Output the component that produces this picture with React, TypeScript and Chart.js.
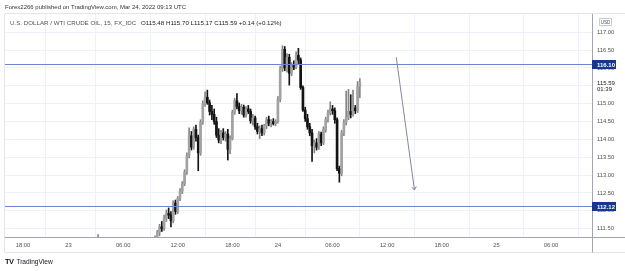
import React, { useEffect, useRef } from "react";
import { Chart, registerables } from "chart.js";

Chart.register(...registerables);

// ---- data (15-minute bars, index 0 = Mar 22 18:00 UTC) ----
const firstBar = 30;
const opens = [
  110.70, 110.78, 110.90, 110.98, 111.05, 110.90, 110.76, 110.66, 110.72, 110.70,
  110.58, 110.62, 110.68, 110.64, 110.55, 110.60, 110.66, 110.75, 110.70, 110.80,
  110.92, 111.05, 110.98, 111.15, 111.02, 111.10, 111.00, 111.08, 111.15, 111.25,
  111.40, 111.55, 111.50, 111.80, 111.92, 111.88, 111.72, 112.22, 111.98, 112.35,
  112.55, 112.76, 113.08, 113.55, 114.10, 113.78, 114.28, 114.05, 113.62, 114.48,
  115.00, 115.18, 115.02, 114.78, 114.70, 114.50, 114.12, 113.98, 114.18, 114.05,
  114.15, 113.72, 114.02, 114.75, 115.08, 114.92, 114.80, 114.90, 114.68, 114.85,
  114.78, 114.52, 114.60, 114.35, 114.22, 114.30, 114.18, 114.38, 114.55, 114.45,
  114.50, 114.44, 114.50, 115.12, 115.98, 116.52, 116.00, 116.30, 115.85, 116.08,
  116.02, 116.35, 116.22, 115.45, 114.82, 114.58, 114.35, 114.18, 113.82, 113.90,
  113.78, 114.15, 113.90, 114.28, 114.55, 114.75, 114.85, 114.80, 114.55, 113.18,
  113.05, 114.18, 114.48, 114.62, 114.78, 114.70, 114.88, 114.80, 115.48,
];
const highs = [
  110.85, 110.95, 111.05, 111.33, 111.10, 110.98, 110.86, 110.80, 110.85, 110.78,
  110.70, 110.75, 110.80, 110.72, 110.68, 110.74, 110.82, 110.90, 110.85, 110.98,
  111.12, 111.20, 111.22, 111.25, 111.18, 111.24, 111.12, 111.22, 111.30, 111.45,
  111.62, 111.70, 111.88, 112.02, 112.08, 111.98, 112.28, 112.30, 112.40, 112.62,
  112.82, 113.15, 113.62, 114.32, 114.22, 114.35, 114.40, 114.12, 114.55, 115.08,
  115.33, 115.38, 115.10, 114.95, 114.85, 114.62, 114.30, 114.25, 114.30, 114.22,
  114.28, 114.10, 114.82, 115.15, 115.28, 115.02, 114.98, 114.96, 114.92, 114.95,
  114.85, 114.70, 114.65, 114.45, 114.38, 114.40, 114.42, 114.62, 114.65, 114.55,
  114.58, 114.55, 115.20, 116.05, 116.62, 116.60, 116.40, 116.38, 116.15, 116.20,
  116.45, 116.55, 116.28, 115.50, 114.90, 114.70, 114.45, 114.28, 113.98, 114.02,
  114.22, 114.20, 114.35, 114.62, 114.82, 115.05, 114.95, 114.88, 114.60, 113.25,
  114.25, 114.55, 115.35, 115.40, 115.25, 115.38, 114.95, 115.62, 115.70,
];
const lows = [
  110.60, 110.70, 110.82, 110.90, 110.85, 110.70, 110.60, 110.55, 110.62, 110.50,
  110.45, 110.52, 110.58, 110.48, 110.42, 110.50, 110.58, 110.66, 110.60, 110.72,
  110.85, 110.95, 110.90, 110.95, 110.92, 111.00, 110.92, 111.00, 111.05, 111.18,
  111.30, 111.42, 111.45, 111.70, 111.78, 111.55, 111.66, 111.90, 111.92, 112.28,
  112.48, 112.70, 113.02, 113.48, 113.70, 113.72, 113.95, 113.12, 113.55, 114.42,
  114.92, 114.98, 114.68, 114.55, 114.42, 114.05, 113.90, 113.88, 113.98, 113.95,
  113.42, 113.60, 113.98, 114.70, 114.85, 114.72, 114.70, 114.62, 114.62, 114.72,
  114.45, 114.40, 114.28, 114.15, 114.02, 114.10, 114.12, 114.30, 114.38, 114.35,
  114.40, 114.38, 114.45, 115.05, 115.90, 115.92, 115.88, 115.52, 115.78, 115.95,
  115.98, 116.12, 115.40, 114.78, 114.50, 114.28, 114.10, 113.38, 113.62, 113.70,
  113.72, 113.82, 113.85, 114.20, 114.48, 114.68, 114.70, 114.45, 113.12, 112.80,
  112.98, 114.10, 114.40, 114.55, 114.60, 114.65, 114.72, 114.75, 115.17,
];
const closes = [
  110.78, 110.90, 110.98, 111.05, 110.90, 110.76, 110.66, 110.72, 110.70, 110.58,
  110.62, 110.68, 110.64, 110.55, 110.60, 110.66, 110.75, 110.70, 110.80, 110.92,
  111.05, 110.98, 111.15, 111.02, 111.10, 111.18, 111.08, 111.15, 111.25, 111.40,
  111.55, 111.50, 111.80, 111.92, 111.88, 111.72, 112.22, 111.98, 112.35, 112.55,
  112.76, 113.08, 113.55, 114.10, 113.78, 114.28, 114.05, 113.62, 114.48, 115.00,
  115.18, 115.02, 114.78, 114.70, 114.50, 114.12, 113.98, 114.18, 114.05, 114.15,
  113.72, 114.02, 114.75, 115.08, 114.92, 114.80, 114.90, 114.68, 114.85, 114.78,
  114.52, 114.60, 114.35, 114.22, 114.30, 114.18, 114.38, 114.55, 114.45, 114.50,
  114.44, 114.50, 115.12, 115.98, 116.52, 116.00, 116.30, 115.85, 116.08, 116.02,
  116.35, 116.22, 115.45, 114.82, 114.58, 114.35, 114.18, 113.82, 113.90, 113.78,
  114.15, 113.90, 114.28, 114.55, 114.75, 114.85, 114.80, 114.55, 113.18, 113.05,
  114.18, 114.48, 114.62, 114.78, 114.70, 114.88, 114.80, 115.48, 115.59,
];

const xTickBars = [0, 20, 44, 68, 92, 112, 136, 160, 184, 208, 232];
const xTickLabels = ["18:00", "23", "06:00", "12:00", "18:00", "24", "06:00", "12:00", "18:00", "25", "06:00"];
const yTicks = [111.5, 112.0, 112.5, 113.0, 113.5, 114.0, 114.5, 115.0, 115.5, 116.0, 116.5, 117.0];
const levelLines = [116.1, 112.12];
const lastPrice = 115.59;
const countdown = "01:39";
const arrowFrom = { bar: 164, price: 116.3 };
const arrowTo = { bar: 172, price: 112.58 };
const xMin = -7.9;
const xMax = 250;
const yMin = 111.265;
const yMax = 117.51;

const FONT = "'Liberation Sans', Arial, sans-serif";

const overlay = {
  id: "overlay",
  afterDraw(chart: any) {
    const { ctx, chartArea } = chart;
    const xs = chart.scales.x;
    const ys = chart.scales.y;
    const W = chart.width;
    ctx.save();
    // frame
    ctx.lineWidth = 1;
    ctx.strokeStyle = "#e3e5eb";
    ctx.beginPath();
    ctx.moveTo(4.5, chartArea.top - 0.5);
    ctx.lineTo(W, chartArea.top - 0.5);
    ctx.moveTo(4.5, chartArea.top - 0.5);
    ctx.lineTo(4.5, 252.5);
    ctx.moveTo(4.5, 252.5);
    ctx.lineTo(W, 252.5);
    ctx.stroke();
    ctx.strokeStyle = "#a3a6af";
    ctx.beginPath();
    ctx.moveTo(Math.round(chartArea.right) + 0.5, chartArea.top);
    ctx.lineTo(Math.round(chartArea.right) + 0.5, 252.5);
    ctx.moveTo(chartArea.left, Math.round(chartArea.bottom) + 0.5);
    ctx.lineTo(W, Math.round(chartArea.bottom) + 0.5);
    ctx.stroke();

    // horizontal levels
    ctx.strokeStyle = "#6f84d2";
    ctx.lineWidth = 1;
    levelLines.forEach((v) => {
      const y = Math.round(ys.getPixelForValue(v)) + 0.5;
      ctx.beginPath();
      ctx.moveTo(chartArea.left, y);
      ctx.lineTo(chartArea.right, y);
      ctx.stroke();
    });

    // arrow
    const x1 = xs.getPixelForValue(arrowFrom.bar);
    const y1 = ys.getPixelForValue(arrowFrom.price);
    const x2 = xs.getPixelForValue(arrowTo.bar);
    const y2 = ys.getPixelForValue(arrowTo.price);
    ctx.strokeStyle = "#85888f";
    ctx.lineWidth = 1;
    ctx.beginPath();
    ctx.moveTo(x1, y1);
    ctx.lineTo(x2, y2);
    const ang = Math.atan2(y2 - y1, x2 - x1);
    const hl = 4;
    ctx.moveTo(x2, y2);
    ctx.lineTo(x2 - hl * Math.cos(ang - 0.6), y2 - hl * Math.sin(ang - 0.6));
    ctx.moveTo(x2, y2);
    ctx.lineTo(x2 - hl * Math.cos(ang + 0.6), y2 - hl * Math.sin(ang + 0.6));
    ctx.stroke();

    // axis labels for levels
    ctx.font = `bold 6px ${FONT}`;
    ctx.textBaseline = "middle";
    ctx.textAlign = "left";
    levelLines.forEach((v) => {
      const y = Math.round(ys.getPixelForValue(v)) + 0.5;
      ctx.fillStyle = "#17378f";
      ctx.fillRect(chartArea.right, y - 4.5, 24, 9);
      ctx.fillStyle = "#ffffff";
      ctx.fillText(v.toFixed(2), chartArea.right + 5, y + 0.5);
    });

    // last price label
    const ly = ys.getPixelForValue(lastPrice);
    ctx.fillStyle = "#ffffff";
    ctx.fillRect(chartArea.right + 1, ly - 4.5, 24, 14);
    ctx.fillStyle = "#131722";
    ctx.font = `6px ${FONT}`;
    ctx.fillText(lastPrice.toFixed(2), chartArea.right + 5, ly + 0.5);
    ctx.fillText(countdown, chartArea.right + 5, ly + 7);

    // currency box
    ctx.strokeStyle = "#c8cad1";
    ctx.fillStyle = "#ffffff";
    ctx.beginPath();
    ctx.rect(599.5, 18.5, 12, 7);
    ctx.fill();
    ctx.stroke();
    ctx.fillStyle = "#50535e";
    ctx.font = `4.6px ${FONT}`;
    ctx.textAlign = "center";
    ctx.fillText("USD", 605.5, 22.3);
    ctx.restore();
  },
};

export default function App() {
  const ref = useRef<HTMLCanvasElement | null>(null);

  useEffect(() => {
    if (!ref.current) return;
    const bars = opens.map((_, k) => firstBar + k);
    const upBody = "#a2a2a2";
    const downBody = "#141414";
    const upWick = "#858585";
    const bodyColors = opens.map((o, k) => (closes[k] >= o ? upBody : downBody));
    const wickColors = opens.map((o, k) => (closes[k] >= o ? upWick : downBody));
    const labelFont = { family: FONT, size: 5.8 };
    const chart = new Chart(ref.current, {
      type: "bar",
      data: {
        datasets: [
          {
            label: "wick",
            data: bars.map((x, k) => ({ x, y: [lows[k], highs[k]] })) as any,
            backgroundColor: wickColors,
            barThickness: 1,
            grouped: false,
            order: 2,
            clip: 0,
          } as any,
          {
            label: "body",
            data: bars.map((x, k) => ({ x, y: [opens[k], closes[k]] })) as any,
            backgroundColor: bodyColors,
            barThickness: 2,
            grouped: false,
            order: 1,
            clip: 0,
          } as any,
        ],
      },
      options: {
        animation: false,
        responsive: false,
        maintainAspectRatio: false,
        layout: { padding: { left: 5, top: 14, right: 0, bottom: 18 } },
        plugins: { legend: { display: false }, tooltip: { enabled: false } },
        scales: {
          x: {
            type: "linear",
            min: xMin,
            max: xMax,
            offset: false,
            afterBuildTicks: (s: any) => {
              s.ticks = xTickBars.map((v) => ({ value: v }));
            },
            afterFit: (s: any) => {
              s.height = 16;
            },
            grid: { color: "#eef1f7", drawTicks: false },
            border: { display: false },
            ticks: {
              autoSkip: false,
              maxRotation: 0,
              padding: 5,
              color: "#4f525b",
              font: labelFont,
              callback: (_v: any, i: number) => xTickLabels[i],
            },
          },
          y: {
            type: "linear",
            position: "right",
            min: yMin,
            max: yMax,
            afterBuildTicks: (s: any) => {
              s.ticks = yTicks.map((v) => ({ value: v }));
            },
            afterFit: (s: any) => {
              s.width = 33;
            },
            grid: { color: "#eef1f7", drawTicks: false },
            border: { display: false },
            ticks: {
              padding: 5,
              color: "#4f525b",
              font: labelFont,
              callback: (v: any) => Number(v).toFixed(2),
            },
          },
        },
      },
      plugins: [overlay],
    } as any);
    return () => chart.destroy();
  }, []);

  const txt: React.CSSProperties = {
    position: "absolute",
    whiteSpace: "nowrap",
    fontFamily: FONT,
    lineHeight: "8px",
  };

  return (
    <div style={{ position: "absolute", left: 0, top: 0, width: 625, height: 271, background: "#fff", overflow: "hidden" }}>
      <canvas ref={ref} width={625} height={271} style={{ display: "block", width: 625, height: 271 }} />
      <div style={{ ...txt, left: 5, top: 3, fontSize: "6px", color: "#333" }}>
        Forex2266 published on TradingView.com, Mar 24, 2022 09:13 UTC
      </div>
      <div style={{ ...txt, left: 10, top: 19, fontSize: "6.2px", color: "#50535e" }}>
        U.S. DOLLAR / WTI CRUDE OIL, 15, FX_IDC{" "}
        <span style={{ color: "#222", marginLeft: 3 }}>
          O115.48 H115.70 L115.17 C115.59 +0.14 (+0.12%)
        </span>
      </div>
      <div style={{ ...txt, left: 5, top: 258, fontSize: "6.6px", color: "#131722" }}>
        <span style={{ fontWeight: 900, fontSize: "7.5px", letterSpacing: "-0.6px", marginRight: 3 }}>TV</span>
        TradingView
      </div>
    </div>
  );
}
